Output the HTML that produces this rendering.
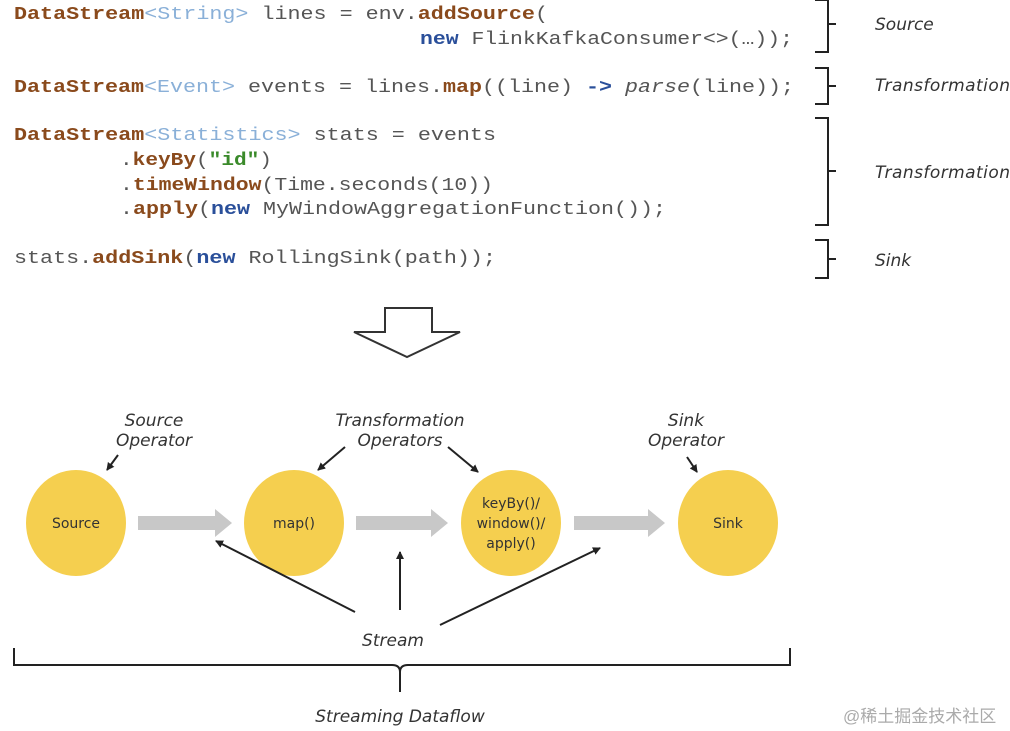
<!DOCTYPE html>
<html><head><meta charset="utf-8"><style>
html,body{margin:0;padding:0;background:#fff;width:1010px;height:731px;overflow:hidden}
.c{font-family:"Liberation Mono",monospace;font-size:18px;fill:#555}
.k{fill:#8a4a1c;font-weight:bold}
.t{fill:#8ab0d8}
.n{fill:#2a4f9a;font-weight:bold}
.s{fill:#3a8a2a;font-weight:bold}
.l{font-family:"DejaVu Sans","Liberation Sans",sans-serif;font-style:italic;font-size:17px;fill:#333}
.o{font-family:"DejaVu Sans","Liberation Sans",sans-serif;font-size:14px;fill:#333;text-anchor:middle}
</style></head><body>
<svg width="1010" height="731" xmlns="http://www.w3.org/2000/svg">
<defs><marker id="a" markerWidth="8" markerHeight="8" refX="7" refY="4" orient="auto" markerUnits="userSpaceOnUse"><path d="M0,0L8,4L0,8Z" fill="#222"/></marker></defs>
<g class="c">
<text x="14" y="19" textLength="534" lengthAdjust="spacingAndGlyphs"><tspan class="k">DataStream</tspan><tspan class="t">&lt;String&gt;</tspan> lines = env.<tspan class="k">addSource</tspan>(</text>
<text x="420" y="44" textLength="373" lengthAdjust="spacingAndGlyphs"><tspan class="n">new</tspan> FlinkKafkaConsumer&lt;&gt;(…));</text>
<text x="14" y="92" textLength="780" lengthAdjust="spacingAndGlyphs"><tspan class="k">DataStream</tspan><tspan class="t">&lt;Event&gt;</tspan> events = lines.<tspan class="k">map</tspan>((line) <tspan class="n">-&gt;</tspan> <tspan font-style="italic">parse</tspan>(line));</text>
<text x="14" y="140" textLength="482" lengthAdjust="spacingAndGlyphs"><tspan class="k">DataStream</tspan><tspan class="t">&lt;Statistics&gt;</tspan> stats = events</text>
<text x="120" y="165" textLength="152" lengthAdjust="spacingAndGlyphs">.<tspan class="k">keyBy</tspan>(<tspan class="s">"id"</tspan>)</text>
<text x="120" y="190" textLength="373" lengthAdjust="spacingAndGlyphs">.<tspan class="k">timeWindow</tspan>(Time.seconds(10))</text>
<text x="120" y="214" textLength="546" lengthAdjust="spacingAndGlyphs">.<tspan class="k">apply</tspan>(<tspan class="n">new</tspan> MyWindowAggregationFunction());</text>
<text x="14" y="263" textLength="482" lengthAdjust="spacingAndGlyphs">stats.<tspan class="k">addSink</tspan>(<tspan class="n">new</tspan> RollingSink(path));</text>
</g>
<g fill="none" stroke="#222" stroke-width="2">
<path d="M815,0 H828 V24 H836 M828,24 V52 H815"/>
<path d="M815,68 H828 V86 H836 M828,86 V104 H815"/>
<path d="M815,118 H828 V171 H836 M828,171 V225 H815"/>
<path d="M815,240 H828 V259 H836 M828,259 V278 H815"/>
</g>
<text class="l" x="875" y="30">Source</text>
<text class="l" x="875" y="91" textLength="135">Transformation</text>
<text class="l" x="875" y="178" textLength="135">Transformation</text>
<text class="l" x="875" y="266">Sink</text>
<path d="M385,308 H432 V332 H460 L407,357 L354,332 H385 Z" fill="#fff" stroke="#333" stroke-width="2"/>
<g class="l" text-anchor="middle">
<text x="154" y="426">Source</text><text x="154" y="446">Operator</text>
<text x="400" y="426">Transformation</text><text x="400" y="446">Operators</text>
<text x="686" y="426">Sink</text><text x="686" y="446">Operator</text>
<text x="393" y="646">Stream</text>
<text x="400" y="722">Streaming Dataflow</text>
</g>
<g fill="#f5cf4f">
<ellipse cx="76" cy="523" rx="50" ry="53"/><ellipse cx="294" cy="523" rx="50" ry="53"/>
<ellipse cx="511" cy="523" rx="50" ry="53"/><ellipse cx="728" cy="523" rx="50" ry="53"/>
</g>
<g fill="#c8c8c8">
<path d="M138,516 H215 V509 L232,523 L215,537 V530 H138Z"/>
<path d="M356,516 H431 V509 L448,523 L431,537 V530 H356Z"/>
<path d="M574,516 H648 V509 L665,523 L648,537 V530 H574Z"/>
</g>
<text class="o" x="76" y="528">Source</text>
<text class="o" x="294" y="528">map()</text>
<text class="o" x="511" y="508">keyBy()/</text>
<text class="o" x="511" y="528">window()/</text>
<text class="o" x="511" y="548">apply()</text>
<text class="o" x="728" y="528">Sink</text>
<g stroke="#222" stroke-width="2" marker-end="url(#a)">
<line x1="118" y1="455" x2="107" y2="470"/>
<line x1="345" y1="447" x2="318" y2="470"/>
<line x1="448" y1="447" x2="478" y2="472"/>
<line x1="687" y1="457" x2="697" y2="472"/>
<line x1="355" y1="612" x2="216" y2="541"/>
<line x1="400" y1="610" x2="400" y2="552"/>
<line x1="440" y1="625" x2="600" y2="548"/>
</g>
<path d="M14,648 V665 H392 Q400,665 400,672 V692 M400,672 Q400,665 408,665 H790 V648" fill="none" stroke="#222" stroke-width="2"/>
<text x="843" y="722" font-family="'Liberation Sans','Noto Sans CJK SC',sans-serif" font-size="17" fill="#aaa">@稀土掘金技术社区</text>
</svg>
</body></html>
